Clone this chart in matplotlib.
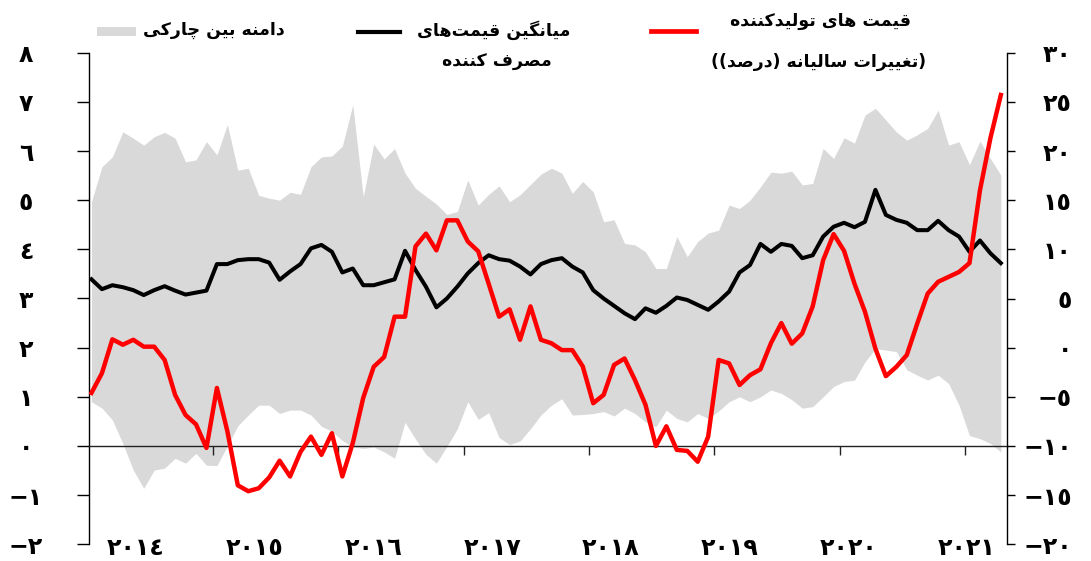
import numpy as np
import matplotlib
matplotlib.use("Agg")
import matplotlib.pyplot as plt
from matplotlib.patches import Rectangle
from matplotlib.lines import Line2D

# ---------------- data (monthly, Jan 2014 - Apr 2021) ----------------
start_year = 2014
cpi_mean = [3.39, 3.19, 3.27, 3.23, 3.17, 3.07, 3.17, 3.25, 3.16, 3.08, 3.12, 3.16,
            3.70, 3.70, 3.78, 3.80, 3.80, 3.73, 3.38, 3.55, 3.70, 4.02, 4.09, 3.95,
            3.53, 3.61, 3.27, 3.27, 3.33, 3.39, 3.97, 3.58, 3.24, 2.82, 3.00, 3.24,
            3.51, 3.72, 3.88, 3.80, 3.77, 3.65, 3.49, 3.70, 3.78, 3.82, 3.65, 3.53,
            3.17, 3.00, 2.85, 2.70, 2.58, 2.80, 2.71, 2.85, 3.02, 2.97, 2.87, 2.77,
            2.94, 3.14, 3.53, 3.68, 4.11, 3.95, 4.11, 4.07, 3.82, 3.88, 4.26, 4.46,
            4.54, 4.45, 4.56, 5.21, 4.70, 4.60, 4.54, 4.39, 4.39, 4.58, 4.39, 4.26,
            3.95, 4.18, 3.92, 3.72]

ppi = [-4.6, -2.6, 0.85, 0.3, 0.8, 0.1, 0.1, -1.25, -4.8, -6.85, -7.8, -10.2,
       -4.1, -8.5, -14.0, -14.6, -14.3, -13.2, -11.5, -13.1, -10.6, -9.05, -10.9, -8.7,
       -13.1, -9.7, -5.1, -1.95, -0.95, 3.15, 3.15, 10.3, 11.6, 9.9, 12.95, 12.95,
       10.8, 9.8, 6.5, 3.15, 3.9, 0.8, 4.2, 0.8, 0.45, -0.25, -0.25, -1.9,
       -5.65, -4.8, -1.75, -1.1, -3.3, -5.8, -10.0, -8.0, -10.4, -10.5, -11.6, -9.05,
       -1.25, -1.6, -3.8, -2.8, -2.2, 0.45, 2.5, 0.4, 1.45, 4.2, 8.9, 11.55,
       9.85, 6.5, 3.65, -0.1, -2.9, -1.95, -0.75, 2.45, 5.5, 6.7, 7.2, 7.7,
       8.6, 16.0, 21.3, 25.7]

band_hi = [4.97, 5.68, 5.88, 6.39, 6.26, 6.12, 6.29, 6.38, 6.26, 5.78, 5.82, 6.19,
           5.92, 6.54, 5.61, 5.65, 5.10, 5.04, 5.00, 5.16, 5.12, 5.68, 5.88, 5.90,
           6.10, 6.94, 5.07, 6.14, 5.84, 6.05, 5.55, 5.24, 5.08, 4.92, 4.71, 4.77,
           5.41, 4.90, 5.12, 5.29, 4.97, 5.11, 5.32, 5.53, 5.65, 5.55, 5.14, 5.38,
           5.17, 4.56, 4.60, 4.12, 4.09, 3.95, 3.61, 3.61, 4.26, 3.85, 4.16, 4.33,
           4.39, 4.90, 4.83, 5.00, 5.27, 5.57, 5.55, 5.59, 5.31, 5.34, 6.05, 5.85,
           6.27, 6.16, 6.73, 6.87, 6.63, 6.39, 6.22, 6.33, 6.46, 6.83, 6.12, 6.19,
           5.72, 6.20, 5.85, 5.51]

band_lo = [0.90, 0.77, 0.53, 0.05, -0.49, -0.86, -0.49, -0.45, -0.25, -0.35, -0.15, -0.39,
           -0.40, 0.00, 0.41, 0.63, 0.83, 0.83, 0.66, 0.73, 0.73, 0.63, 0.40, 0.30,
           0.11, -0.02, -0.05, -0.02, -0.12, -0.25, 0.48, 0.14, -0.17, -0.35, -0.01, 0.35,
           0.90, 0.54, 0.68, 0.17, 0.03, 0.10, 0.35, 0.63, 0.83, 0.96, 0.63, 0.64,
           0.66, 0.70, 0.61, 0.77, 0.66, 0.49, 0.39, 0.73, 0.56, 0.49, 0.66, 0.56,
           0.71, 0.90, 1.00, 0.90, 1.00, 1.14, 1.07, 0.94, 0.77, 0.80, 1.00, 1.21,
           1.31, 1.34, 1.71, 1.98, 1.95, 1.92, 1.55, 1.44, 1.34, 1.44, 1.27, 0.83,
           0.21, 0.15, 0.05, -0.12]

year_labels = ["2014", "2015", "2016", "2017", "2018", "2019", "2020", "2021"]
year_ticks = [2015, 2016, 2017, 2018, 2019, 2020, 2021]
left_ticks = list(range(-2, 9))
right_ticks = list(range(-20, 31, 5))

txt_band = "دامنه بین چارکی"
txt_cpi1 = "میانگین قیمت\u200cهای"
txt_cpi2 = "مصرف کننده"
txt_ppi1 = "قیمت های تولیدکننده"
txt_ppi2 = "(تغییرات سالیانه (درصد))"

# ---------------- minimal Persian shaping (no external libs) ----------------
FORMS = {
    '\u0627': ('\uFE8D', '\uFE8E', None, None),
    '\u0628': ('\uFE8F', '\uFE90', '\uFE91', '\uFE92'),
    '\u062A': ('\uFE95', '\uFE96', '\uFE97', '\uFE98'),
    '\u062F': ('\uFEA9', '\uFEAA', None, None),
    '\u0631': ('\uFEAD', '\uFEAE', None, None),
    '\u0633': ('\uFEB1', '\uFEB2', '\uFEB3', '\uFEB4'),
    '\u0635': ('\uFEB9', '\uFEBA', '\uFEBB', '\uFEBC'),
    '\u063A': ('\uFECD', '\uFECE', '\uFECF', '\uFED0'),
    '\u0641': ('\uFED1', '\uFED2', '\uFED3', '\uFED4'),
    '\u0642': ('\uFED5', '\uFED6', '\uFED7', '\uFED8'),
    '\u0644': ('\uFEDD', '\uFEDE', '\uFEDF', '\uFEE0'),
    '\u0645': ('\uFEE1', '\uFEE2', '\uFEE3', '\uFEE4'),
    '\u0646': ('\uFEE5', '\uFEE6', '\uFEE7', '\uFEE8'),
    '\u0647': ('\uFEE9', '\uFEEA', '\uFEEB', '\uFEEC'),
    '\u0648': ('\uFEED', '\uFEEE', None, None),
    '\u06CC': ('\uFBFC', '\uFBFD', '\uFBFE', '\uFBFF'),
    '\u06A9': ('\uFB8E', '\uFB8F', '\uFB90', '\uFB91'),
    '\u06AF': ('\uFB92', '\uFB93', '\uFB94', '\uFB95'),
    '\u0686': ('\uFB7A', '\uFB7B', '\uFB7C', '\uFB7D'),
}
MIRROR = {'(': ')', ')': '('}


def shape_fa(text):
    out = []
    n = len(text)
    for k, c in enumerate(text):
        if c not in FORMS:
            if c != '\u200c':
                out.append(c)
            continue
        f = FORMS[c]
        prev = text[k - 1] if k > 0 else ''
        nxt = text[k + 1] if k < n - 1 else ''
        pj = prev in FORMS and FORMS[prev][2] is not None
        nj = nxt in FORMS and f[2] is not None
        if pj and nj:
            out.append(f[3])
        elif pj:
            out.append(f[1])
        elif nj:
            out.append(f[2])
        else:
            out.append(f[0])
    return ''.join(MIRROR.get(ch, ch) for ch in reversed(out))


DIG = str.maketrans('0123456789-', '٠١٢٣٤٥٦٧٨٩−')


def ar(v):
    return str(v).translate(DIG)


# ---------------- figure ----------------
W, H = 1091, 561
fig = plt.figure(figsize=(W / 100, H / 100), dpi=100)
plt.rcParams['font.family'] = ['DejaVu Sans']

ax = fig.add_axes([89.3 / W, 1 - 544.3 / H, (1006.7 - 89.3) / W, (544.3 - 52.7) / H])
n = len(cpi_mean)
t = start_year + (np.arange(n) + 0.4) / 12

ax.fill_between(t, band_lo, band_hi, color='#d9d9d9', lw=0, zorder=1)
ax.plot(t, cpi_mean, color='black', lw=2.9, zorder=3, solid_joinstyle='round')
ax.set_xlim(2014.016, 2021.33)
ax.set_ylim(-2, 8)

ax2 = ax.twinx()
ax2.plot(t, ppi, color='#ff0000', lw=3.2, solid_joinstyle='round')
ax2.set_ylim(-20, 30)

for s in ('top', 'right'):
    ax.spines[s].set_visible(False)
for s in ('top', 'bottom', 'left'):
    ax2.spines[s].set_visible(False)
ax.spines['bottom'].set_position(('data', 0))
ax.spines['bottom'].set_color('#222222')
ax.spines['bottom'].set_linewidth(1.0)
ax.spines['left'].set_linewidth(1.0)
ax2.spines['right'].set_linewidth(1.0)

ax.set_xticks(year_ticks)
ax.tick_params(axis='x', direction='out', length=6.5, width=1.0, labelbottom=False, color='#222222')

ax.set_yticks(left_ticks)
ax.set_yticklabels([ar(v) for v in left_ticks], fontsize=17, fontweight='bold', ha='center')
ax.tick_params(axis='y', direction='out', length=8.5, width=1.0, pad=37)

ax2.set_yticks(right_ticks)
ax2.set_yticklabels([ar(v) for v in right_ticks], fontsize=17, fontweight='bold', ha='right')
ax2.tick_params(axis='y', direction='out', length=6.0, width=1.0, pad=41)

# year labels
for lab, px in zip(year_labels, np.linspace(136, 967, len(year_labels))):
    fig.text(px / W, 1 - 548 / H, ar(lab), ha='center', va='center', fontsize=17, fontweight='bold')

# legend
fig.add_artist(Rectangle((97 / W, 1 - 36 / H), 39 / W, 9 / H, transform=fig.transFigure,
                         facecolor='#d9d9d9', edgecolor='none'))
fig.add_artist(Line2D([358 / W, 400 / W], [1 - 32 / H, 1 - 32 / H], transform=fig.transFigure,
                      color='black', lw=3.0))
fig.add_artist(Line2D([651 / W, 696 / W], [1 - 31 / H, 1 - 31 / H], transform=fig.transFigure,
                      color='#ff0000', lw=3.4))

lkw = dict(ha='center', va='center', fontsize=12.5, fontweight='bold')
fig.text(214 / W, 1 - 30 / H, shape_fa(txt_band), **lkw)
fig.text(494 / W, 1 - 30 / H, shape_fa(txt_cpi1), **lkw)
fig.text(497 / W, 1 - 62 / H, shape_fa(txt_cpi2), **lkw)
fig.text(820 / W, 1 - 21 / H, shape_fa(txt_ppi1), **lkw)
fig.text(819 / W, 1 - 62 / H, shape_fa(txt_ppi2), **lkw)

fig.savefig('out.png', dpi=100)
